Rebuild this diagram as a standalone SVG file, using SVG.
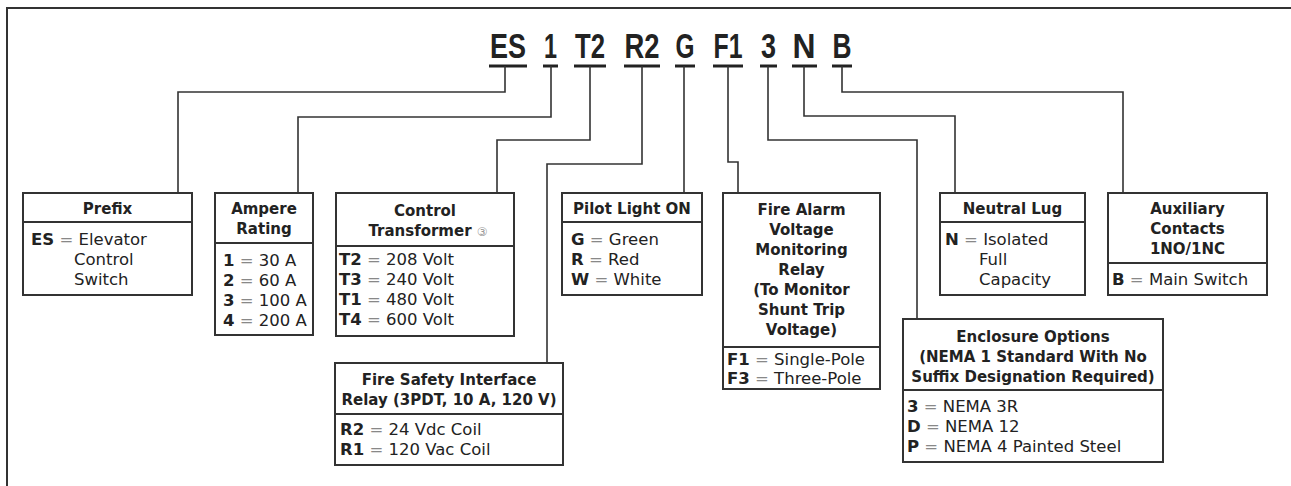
<svg xmlns="http://www.w3.org/2000/svg" width="1291" height="486" viewBox="0 0 1291 486">
<style>
.bg{fill:#fff}
.frame{stroke:#333;stroke-width:2;fill:none}
.box{fill:#fff;stroke:#333;stroke-width:2}
.div{stroke:#333;stroke-width:2}
.con{fill:none;stroke:#333;stroke-width:1.6}
.ul{stroke:#222;stroke-width:3}
.code{font-family:"Liberation Sans",Arial,sans-serif;font-weight:bold;font-size:35px;fill:#222;text-anchor:middle}
.t{font-family:"DejaVu Sans",sans-serif;font-weight:bold;font-size:15px;fill:#222;text-anchor:middle}
.c{font-family:"DejaVu Sans",sans-serif;font-size:16.5px;fill:#222}
.k{font-weight:bold}
.eq{fill:#888}
.note{font-weight:normal;font-size:12px;fill:#999}
</style>
<rect class="bg" x="0" y="0" width="1291" height="486"/>
<path class="frame" d="M7,486 V8 H1291"/>

<g id="code">
<text class="code" x="508" y="58" textLength="36" lengthAdjust="spacingAndGlyphs">ES</text>
<text class="code" x="550.5" y="58" textLength="13" lengthAdjust="spacingAndGlyphs">1</text>
<text class="code" x="590" y="58" textLength="30" lengthAdjust="spacingAndGlyphs">T2</text>
<text class="code" x="642" y="58" textLength="35" lengthAdjust="spacingAndGlyphs">R2</text>
<text class="code" x="685" y="58" textLength="19" lengthAdjust="spacingAndGlyphs">G</text>
<text class="code" x="728" y="58" textLength="29" lengthAdjust="spacingAndGlyphs">F1</text>
<text class="code" x="768.5" y="58" textLength="15" lengthAdjust="spacingAndGlyphs">3</text>
<text class="code" x="804" y="58" textLength="23" lengthAdjust="spacingAndGlyphs">N</text>
<text class="code" x="842" y="58" textLength="19" lengthAdjust="spacingAndGlyphs">B</text>
<line class="ul" x1="489" y1="66" x2="527" y2="66"/>
<line class="ul" x1="543" y1="66" x2="558" y2="66"/>
<line class="ul" x1="574" y1="66" x2="606" y2="66"/>
<line class="ul" x1="624" y1="66" x2="660" y2="66"/>
<line class="ul" x1="675" y1="66" x2="695" y2="66"/>
<line class="ul" x1="713" y1="66" x2="743" y2="66"/>
<line class="ul" x1="760" y1="66" x2="777" y2="66"/>
<line class="ul" x1="792" y1="66" x2="817" y2="66"/>
<line class="ul" x1="832" y1="66" x2="852" y2="66"/>
</g>

<g id="connectors">
<path class="con" d="M505,66 V92 H178 V193"/>
<path class="con" d="M551,66 V117 H298 V193"/>
<path class="con" d="M590,66 V140 H497 V193"/>
<path class="con" d="M642,66 V164 H547 V363"/>
<path class="con" d="M684,66 V193"/>
<path class="con" d="M728,66 V162 H738 V193"/>
<path class="con" d="M768,66 V140 H917 V319"/>
<path class="con" d="M804,66 V116 H955 V193"/>
<path class="con" d="M842,66 V92 H1123 V193"/>
</g>

<g id="prefix">
<rect class="box" x="23" y="193" width="169" height="102"/>
<line class="div" x1="23" y1="222" x2="192" y2="222"/>
<text class="t" x="107.5" y="214">Prefix</text>
<text class="c" x="31" y="245"><tspan class="k">ES</tspan> <tspan class="eq">=</tspan> Elevator</text>
<text class="c" x="74" y="265">Control</text>
<text class="c" x="74" y="285">Switch</text>
</g>

<g id="ampere">
<rect class="box" x="215" y="193" width="98" height="142"/>
<line class="div" x1="215" y1="243" x2="313" y2="243"/>
<text class="t" x="264" y="214">Ampere</text>
<text class="t" x="264" y="234">Rating</text>
<text class="c" x="223" y="266"><tspan class="k">1</tspan> <tspan class="eq">=</tspan> 30 A</text>
<text class="c" x="223" y="286"><tspan class="k">2</tspan> <tspan class="eq">=</tspan> 60 A</text>
<text class="c" x="223" y="306"><tspan class="k">3</tspan> <tspan class="eq">=</tspan> 100 A</text>
<text class="c" x="223" y="326"><tspan class="k">4</tspan> <tspan class="eq">=</tspan> 200 A</text>
</g>

<g id="transformer">
<rect class="box" x="336" y="193" width="178" height="143"/>
<line class="div" x1="336" y1="246" x2="514" y2="246"/>
<text class="t" x="425" y="216">Control</text>
<text class="t" x="428" y="236">Transformer <tspan class="note">③</tspan></text>
<text class="c" x="339" y="265"><tspan class="k">T2</tspan> <tspan class="eq">=</tspan> 208 Volt</text>
<text class="c" x="339" y="285"><tspan class="k">T3</tspan> <tspan class="eq">=</tspan> 240 Volt</text>
<text class="c" x="339" y="305"><tspan class="k">T1</tspan> <tspan class="eq">=</tspan> 480 Volt</text>
<text class="c" x="339" y="325"><tspan class="k">T4</tspan> <tspan class="eq">=</tspan> 600 Volt</text>
</g>

<g id="firesafety">
<rect class="box" x="335" y="363" width="228" height="102"/>
<line class="div" x1="335" y1="414" x2="563" y2="414"/>
<text class="t" x="449" y="385">Fire Safety Interface</text>
<text class="t" x="449" y="405">Relay (3PDT, 10 A, 120 V)</text>
<text class="c" x="340" y="435"><tspan class="k">R2</tspan> <tspan class="eq">=</tspan> 24 Vdc Coil</text>
<text class="c" x="340" y="455"><tspan class="k">R1</tspan> <tspan class="eq">=</tspan> 120 Vac Coil</text>
</g>

<g id="pilot">
<rect class="box" x="562" y="193" width="140" height="102"/>
<line class="div" x1="562" y1="222" x2="702" y2="222"/>
<text class="t" x="632" y="214">Pilot Light ON</text>
<text class="c" x="571" y="245"><tspan class="k">G</tspan> <tspan class="eq">=</tspan> Green</text>
<text class="c" x="571" y="265"><tspan class="k">R</tspan> <tspan class="eq">=</tspan> Red</text>
<text class="c" x="571" y="285"><tspan class="k">W</tspan> <tspan class="eq">=</tspan> White</text>
</g>

<g id="firealarm">
<rect class="box" x="723" y="193" width="157" height="196"/>
<line class="div" x1="723" y1="347" x2="880" y2="347"/>
<text class="t" x="801.5" y="215">Fire Alarm</text>
<text class="t" x="801.5" y="235">Voltage</text>
<text class="t" x="801.5" y="255">Monitoring</text>
<text class="t" x="801.5" y="275">Relay</text>
<text class="t" x="801.5" y="295">(To Monitor</text>
<text class="t" x="801.5" y="315">Shunt Trip</text>
<text class="t" x="801.5" y="335">Voltage)</text>
<text class="c" x="727" y="365"><tspan class="k">F1</tspan> <tspan class="eq">=</tspan> Single-Pole</text>
<text class="c" x="727" y="384"><tspan class="k">F3</tspan> <tspan class="eq">=</tspan> Three-Pole</text>
</g>

<g id="neutral">
<rect class="box" x="940" y="193" width="145" height="102"/>
<line class="div" x1="940" y1="222" x2="1085" y2="222"/>
<text class="t" x="1012.5" y="214">Neutral Lug</text>
<text class="c" x="945" y="245"><tspan class="k">N</tspan> <tspan class="eq">=</tspan> Isolated</text>
<text class="c" x="979" y="265">Full</text>
<text class="c" x="979" y="285">Capacity</text>
</g>

<g id="auxiliary">
<rect class="box" x="1108" y="193" width="159" height="102"/>
<line class="div" x1="1108" y1="263" x2="1267" y2="263"/>
<text class="t" x="1187.5" y="214">Auxiliary</text>
<text class="t" x="1187.5" y="234">Contacts</text>
<text class="t" x="1187.5" y="254">1NO/1NC</text>
<text class="c" x="1112" y="285"><tspan class="k">B</tspan> <tspan class="eq">=</tspan> Main Switch</text>
</g>

<g id="enclosure">
<rect class="box" x="903" y="319" width="260" height="143"/>
<line class="div" x1="903" y1="390" x2="1163" y2="390"/>
<text class="t" x="1033" y="342">Enclosure Options</text>
<text class="t" x="1033" y="362">(NEMA 1 Standard With No</text>
<text class="t" x="1033" y="382">Suffix Designation Required)</text>
<text class="c" x="907" y="412"><tspan class="k">3</tspan> <tspan class="eq">=</tspan> NEMA 3R</text>
<text class="c" x="907" y="432"><tspan class="k">D</tspan> <tspan class="eq">=</tspan> NEMA 12</text>
<text class="c" x="907" y="452"><tspan class="k">P</tspan> <tspan class="eq">=</tspan> NEMA 4 Painted Steel</text>
</g>
</svg>
